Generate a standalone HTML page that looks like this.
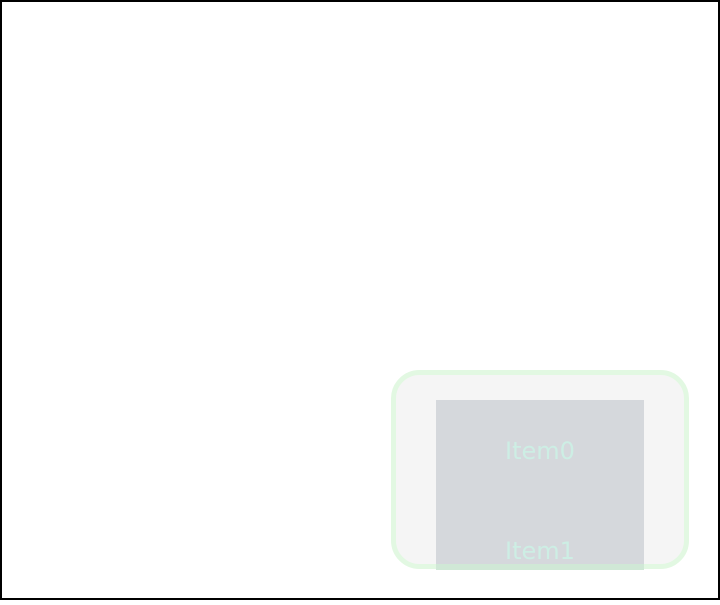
<!DOCTYPE html>
<html><head><style>
html,body{margin:0;padding:0;background:#fff;}
body{width:720px;height:600px;overflow:hidden;}
</style></head><body>
<svg width="720" height="600" xmlns="http://www.w3.org/2000/svg">
<rect x="1" y="1" width="718" height="598" fill="#fff" stroke="#000" stroke-width="2"/>
<rect x="393.5" y="372.5" width="293" height="194" rx="26" fill="#f5f5f5" stroke="#e2f8e2" stroke-width="5"/>
<rect x="436" y="400" width="208" height="170" fill="#d5d8dc"/>
<rect x="436" y="564" width="208" height="6" fill="#d0e8d6"/>
<text x="540" y="459" text-anchor="middle" font-family="'DejaVu Sans','Liberation Sans',sans-serif" font-size="24" fill="#cdeee4">Item0</text>
<text x="540" y="559" text-anchor="middle" font-family="'DejaVu Sans','Liberation Sans',sans-serif" font-size="24" fill="#cdeee4">Item1</text>
</svg>
</body></html>
